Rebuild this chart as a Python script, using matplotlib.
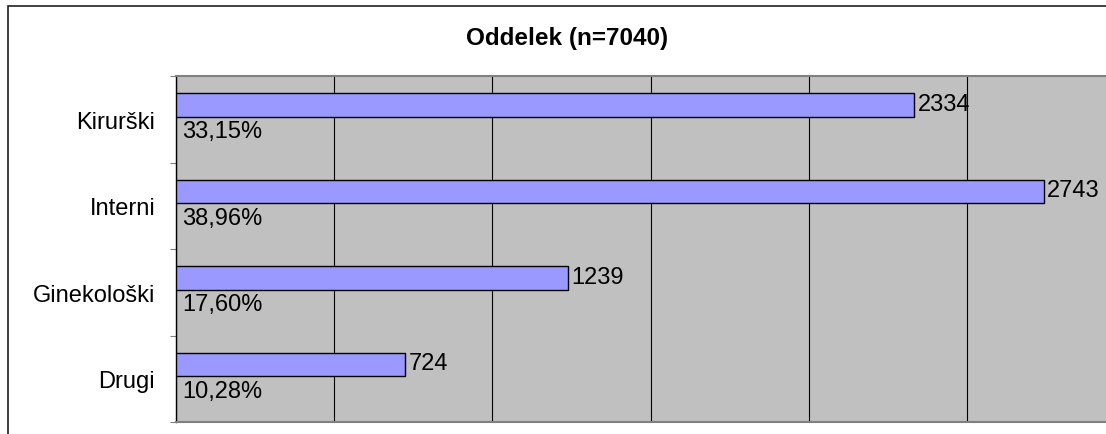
import numpy as np
import matplotlib.pyplot as plt
from matplotlib.patches import Rectangle

# podatki
categories = ['Kirurški', 'Interni', 'Ginekološki', 'Drugi']
counts = [2334, 2743, 1239, 724]
percent_labels = ['33,15%', '38,96%', '17,60%', '10,28%']
title = 'Oddelek (n=7040)'

plt.rcParams['font.family'] = ['Liberation Sans', 'DejaVu Sans']

W, H = 1106, 435
fig = plt.figure(figsize=(W / 100, H / 100), dpi=100)

# zunanji okvir grafa (odrezan desno in spodaj)
fig.patches.append(Rectangle((8 / W, -0.1), 1.2, 1 - 7 / H + 0.1,
                             transform=fig.transFigure, fill=False,
                             edgecolor='#202020', lw=1.2))

ax = fig.add_axes([176 / W, 12 / H, 949 / W, 346 / H])
ax.set_facecolor('#c0c0c0')

y = np.arange(len(categories))
bar_h = 0.27
ax.barh(y + 0.335, counts, height=bar_h, color='#9999ff',
        edgecolor='black', lw=1.0, zorder=3)

ax.set_xlim(0, 3000)
ax.set_ylim(len(categories), 0)
ax.set_xticks(range(0, 3001, 500))
ax.grid(axis='x', color='black', lw=0.8)
ax.set_axisbelow(True)
ax.tick_params(axis='x', length=0, labelbottom=False)

ax.set_yticks(range(len(categories) + 1))
ax.set_yticklabels([])
ax.tick_params(axis='y', which='major', length=4.5, color='#808080')
ax.set_yticks(y + 0.5, minor=True)
ax.set_yticklabels(categories, minor=True, fontsize=17)
ax.tick_params(axis='y', which='minor', length=0, pad=15)

for i, (c, p) in enumerate(zip(counts, percent_labels)):
    ax.annotate(str(c), (c, i + 0.32), xytext=(2.5, 0), textcoords='offset points',
                va='center', ha='left', fontsize=17, zorder=4)
    ax.annotate(p, (0, i + 0.64), xytext=(4.5, 0), textcoords='offset points',
                va='center', ha='left', fontsize=17, zorder=4)

ax.spines['left'].set_color('black')
ax.spines['left'].set_linewidth(1.0)
for s in ['top', 'bottom', 'right']:
    ax.spines[s].set_color('#808080')
    ax.spines[s].set_linewidth(1.5)

fig.text(567 / W, 1 - 38.5 / H, title, ha='center', va='center',
         fontsize=17.5, weight='bold')

fig.savefig('out.png', dpi=100)
